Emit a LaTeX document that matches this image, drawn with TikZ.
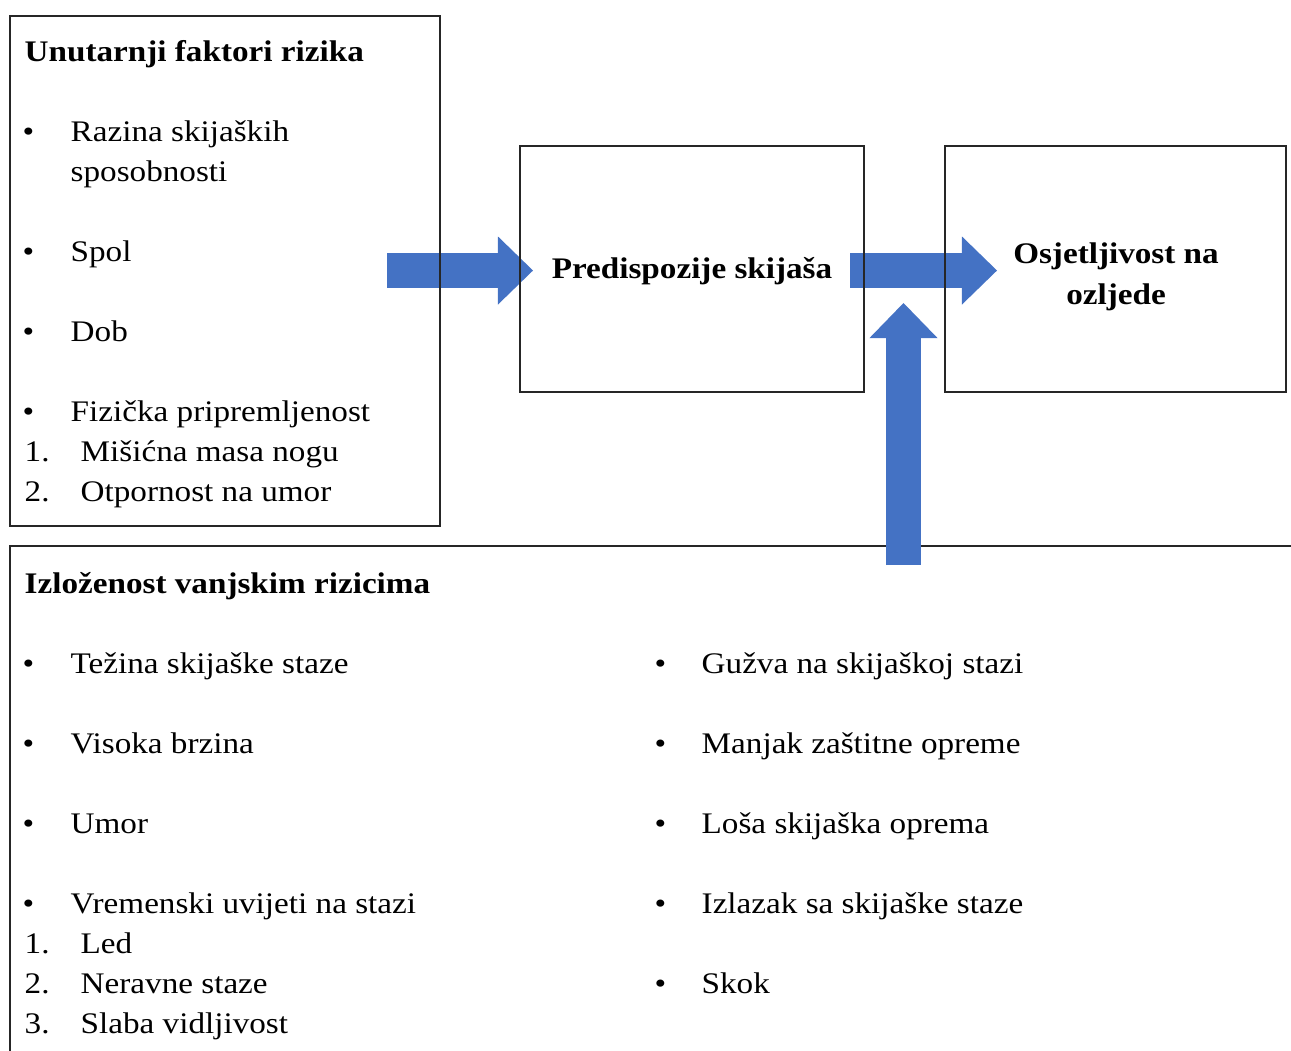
\documentclass[tikz,border=0pt]{standalone}
\usepackage{fontspec}
\setmainfont{Liberation Serif}[FakeStretch=1.11]
\definecolor{ArrowBlue}{HTML}{4472C4}
\definecolor{BoxLine}{HTML}{262626}
\usetikzlibrary{arrows.meta}
\tikzset{
	panel/.style={draw=BoxLine, line width=0.5pt, anchor=north west, inner sep=0pt},
	midpanel/.style={draw=BoxLine, line width=0.5pt, inner sep=0pt},
	entry/.style={anchor=base west, inner sep=0pt, font=\fontsize{8.5pt}{11.34pt}\selectfont},
	heading/.style={entry, font=\fontsize{8.5pt}{11.34pt}\selectfont\bfseries},
	midtext/.style={anchor=base, inner sep=0pt, align=center, font=\fontsize{8.5pt}{11.6pt}\selectfont\bfseries},
	blockarrow/.style={draw=ArrowBlue, line width=0.35cm, -{Triangle[length=0.35cm, width=0.68cm, line width=0pt]}}
}

\begin{document}
\begin{tikzpicture}[x=0.01cm, y=-0.01cm]
		\clip (0,0) rectangle (1291,1050);
		
		% lower panel, runs off the page
		\node[panel, minimum width=13cm, minimum height=5.3cm] (outer) at (9,545) {};
		
		\coordinate (upstart) at (903.5,565);
		\coordinate (upend) at (903.5,303);
		\draw[blockarrow] (upstart) -- (upend);
		
		\coordinate (leftstart) at (387,270.5);
		\coordinate (leftend) at (533,270.5);
		\draw[blockarrow] (leftstart) -- (leftend);
		
		\coordinate (rightstart) at (850,270.5);
		\coordinate (rightend) at (997,270.5);
		\draw[blockarrow] (rightstart) -- (rightend);
		
		\node[panel, minimum width=4.30cm, minimum height=5.10cm] (inner) at (9,15) {};
		\node[midpanel, minimum width=3.44cm, minimum height=2.46cm] (predisp) at (692,269) {};
		\node[midpanel, minimum width=3.41cm, minimum height=2.46cm] (injury) at (1115.5,269) {};
		\node[midtext] (predisptext) at (692,278) {Predispozije skija\v{s}a};
		\node[midtext] (injurytext) at (1116,304) {Osjetljivost na\\ozljede};
		
		% inner factors
		\node[heading] (innertitle) at (24,61) {Unutarnji faktori rizika};
		\node[entry] (ib1) at (22,141) {•};
		\node[entry, align=left] (level) at (70,181) {Razina skija\v{s}kih\\sposobnosti};
		\node[entry] (ib2) at (22,261) {•};
		\node[entry] (sex) at (70,261) {Spol};
		\node[entry] (ib3) at (22,341) {•};
		\node[entry] (age) at (70,341) {Dob};
		\node[entry] (ib4) at (22,421) {•};
		\node[entry] (fitness) at (70,421) {Fizi\v{c}ka pripremljenost};
		\node[entry] (in1) at (24,461) {1.};
		\node[entry] (legs) at (80,461) {Mi\v{s}i\'{c}na masa nogu};
		\node[entry] (in2) at (24,501) {2.};
		\node[entry] (fatigue) at (80,501) {Otpornost na umor};
		
		% outer risks, left column
		\node[heading] (outertitle) at (24,593) {Izlo\v{z}enost vanjskim rizicima};
		\node[entry] (ob1) at (22,673) {•};
		\node[entry] (slope) at (70,673) {Te\v{z}ina skija\v{s}ke staze};
		\node[entry] (ob2) at (22,753) {•};
		\node[entry] (speed) at (70,753) {Visoka brzina};
		\node[entry] (ob3) at (22,833) {•};
		\node[entry] (tired) at (70,833) {Umor};
		\node[entry] (ob4) at (22,913) {•};
		\node[entry] (weather) at (70,913) {Vremenski uvijeti na stazi};
		\node[entry] (on1) at (24,953) {1.};
		\node[entry] (ice) at (80,953) {Led};
		\node[entry] (on2) at (24,993) {2.};
		\node[entry] (uneven) at (80,993) {Neravne staze};
		\node[entry] (on3) at (24,1033) {3.};
		\node[entry] (fog) at (80,1033) {Slaba vidljivost};
		
		% outer risks, right column
		\node[entry] (rb1) at (654,673) {•};
		\node[entry] (crowd) at (701,673) {Gu\v{z}va na skija\v{s}koj stazi};
		\node[entry] (rb2) at (654,753) {•};
		\node[entry] (gear) at (701,753) {Manjak za\v{s}titne opreme};
		\node[entry] (rb3) at (654,833) {•};
		\node[entry] (skis) at (701,833) {Lo\v{s}a skija\v{s}ka oprema};
		\node[entry] (rb4) at (654,913) {•};
		\node[entry] (offpiste) at (701,913) {Izlazak sa skija\v{s}ke staze};
		\node[entry] (rb5) at (654,993) {•};
		\node[entry] (jump) at (701,993) {Skok};
\end{tikzpicture}
\end{document}
